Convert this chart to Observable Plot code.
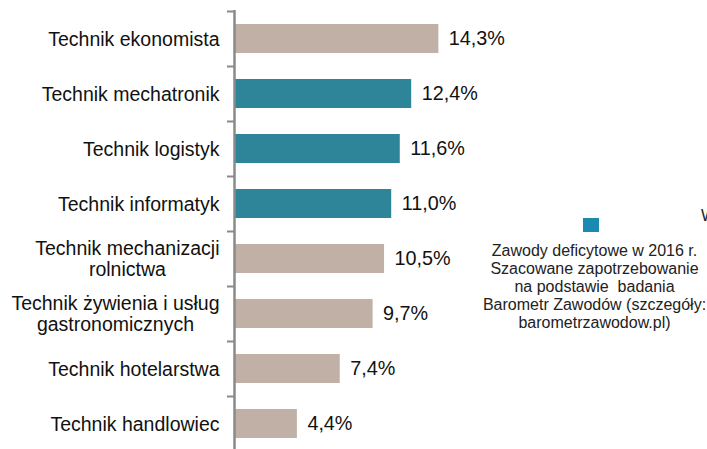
<!DOCTYPE html>
<html>
<head>
<meta charset="utf-8">
<script src="https://cdn.jsdelivr.net/npm/d3@7"></script>
<script src="https://cdn.jsdelivr.net/npm/@observablehq/plot@0.6"></script>
<style>
  html, body { margin: 0; padding: 0; background: #fff; overflow: hidden; width: 707px; height: 449px; }
  #wrap { position: relative; width: 707px; height: 449px; font-family: "Liberation Sans", Arial, sans-serif; }
  #legend { position: absolute; left: 470px; top: 242px; width: 249px; text-align: center; font-size: 16px; line-height: 18px; color: #222; white-space: pre; }
  #swatch { position: absolute; left: 583px; top: 218px; width: 16px; height: 14px; background: #1a8ab0; }
  #cut { position: absolute; left: 701px; top: 207px; font-size: 16px; color: #222; }
</style>
</head>
<body>
<div id="wrap">
  <div id="chart"></div>
  <div id="swatch"></div>
  <div id="legend"></div>
  <div id="cut">W</div>
</div>
<script>
const categories = [
  "Technik ekonomista",
  "Technik mechatronik",
  "Technik logistyk",
  "Technik informatyk",
  "Technik mechanizacji\nrolnictwa",
  "Technik żywienia i usług\ngastronomicznych",
  "Technik hotelarstwa",
  "Technik handlowiec"
];
const values = [14.3, 12.4, 11.6, 11.0, 10.5, 9.7, 7.4, 4.4];
const groups = ["inne", "deficytowe", "deficytowe", "deficytowe", "inne", "inne", "inne", "inne"];
const legendLines = [
  "Zawody deficytowe w 2016 r.",
  "Szacowane zapotrzebowanie",
  "na podstawie  badania",
  "Barometr Zawodów (szczegóły:",
  "barometrzawodow.pl)"
];

const data = categories.map((c, i) => ({name: c, value: values[i], group: groups[i]}));
const fmt = v => v.toFixed(1).replace(".", ",") + "%";

const chart = Plot.plot({
  width: 707,
  height: 449,
  marginLeft: 234,
  marginRight: 0,
  marginTop: 10,
  marginBottom: 0,
  style: {fontFamily: "'Liberation Sans', Arial, sans-serif", color: "#1a1a1a", background: "white"},
  x: {domain: [0, 33.1], axis: null},
  y: {domain: categories, range: [11, 451], padding: 0, axis: null, label: null},
  color: {domain: ["inne", "deficytowe"], range: ["#c1b0a6", "#2e8499"]},
  marks: [
    Plot.barX(data, {x: "value", y: "name", fill: "group", insetTop: 13, insetBottom: 13}),
    Plot.text(data, {x: "value", y: "name", text: d => fmt(d.value), textAnchor: "start", dx: 10, fontSize: 19.8, fill: "#111"}),
    Plot.axisY({tickSize: 7, dy: -27.5, text: null, label: null, stroke: "#8a8a8a", strokeWidth: 2}),
    Plot.axisY({tickSize: 0, tickPadding: 15, fontSize: 19.5, lineHeight: 1.08, fill: "#111", label: null}),
    Plot.ruleX([0], {stroke: "#8a8a8a", strokeWidth: 2.5})
  ]
});
document.getElementById("chart").appendChild(chart);
document.getElementById("legend").textContent = legendLines.join("\n");

// center multi-line tick labels within their right-aligned block
chart.querySelectorAll("text").forEach(t => {
  const spans = t.querySelectorAll("tspan");
  if (spans.length > 1 && (t.getAttribute("text-anchor") === "end" || t.closest("[text-anchor='end']"))) {
    let maxW = 0;
    spans.forEach(s => { maxW = Math.max(maxW, s.getComputedTextLength()); });
    t.setAttribute("text-anchor", "middle");
    spans.forEach(s => s.setAttribute("x", String(-maxW / 2 + (+s.getAttribute("x") || 0))));
  }
});
</script>
</body>
</html>
